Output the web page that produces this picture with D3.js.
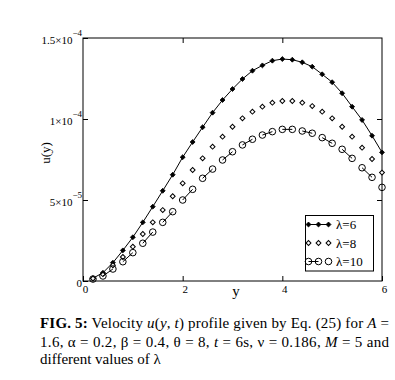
<!doctype html>
<html lang="en">
<head>
<meta charset="utf-8">
<title>FIG. 5 velocity profile</title>
<style>
  body { margin: 0; background: #fff; }
  svg text { font-family: "Liberation Serif", "Times New Roman", serif; fill: #000; }
</style>
</head>
<body>
<div id="chart"></div>
<script src="https://cdnjs.cloudflare.com/ajax/libs/d3/7.8.5/d3.min.js"></script>
<script>
  // y positions (x-axis) and velocity values in units of 1e-5
  const yPos = [0.2, 0.4, 0.6, 0.8, 1.0, 1.2, 1.4, 1.6, 1.8, 2.0,
                2.2, 2.4, 2.6, 2.8, 3.0, 3.2, 3.4, 3.6, 3.8, 4.0,
                4.2, 4.4, 4.6, 4.8, 5.0, 5.2, 5.4, 5.6, 5.8, 6.0];
  const uLam6 = [0.17, 0.51, 1.13, 1.89, 2.70, 3.62, 4.59, 5.57, 6.56, 7.64,
                 8.58, 9.49, 10.39, 11.17, 11.85, 12.47, 12.98, 13.31, 13.60, 13.70,
                 13.66, 13.50, 13.23, 12.76, 12.27, 11.59, 10.76, 9.94, 8.97, 7.94];
  const uLam8 = [0.15, 0.42, 0.97, 1.48, 2.12, 2.90, 3.62, 4.38, 5.23, 6.03,
                 6.85, 7.57, 8.29, 8.91, 9.52, 10.04, 10.45, 10.76, 11.01, 11.11,
                 11.11, 11.01, 10.80, 10.45, 10.04, 9.52, 8.91, 8.23, 7.53, 6.69];
  const uLam10 = [0.12, 0.31, 0.74, 1.19, 1.75, 2.33, 3.02, 3.62, 4.28, 5.00,
                  5.66, 6.34, 6.91, 7.47, 7.98, 8.40, 8.75, 9.01, 9.22, 9.36,
                  9.36, 9.26, 9.12, 8.85, 8.50, 8.13, 7.57, 6.99, 6.40, 5.78];
  const xTicks = [0, 2, 4, 6];
  const yTicks = [0, 5e-5, 1e-4, 1.5e-4];
  const yTickText = [["0", ""], ["5\u00d710", "\u22125"], ["1\u00d710", "\u22124"], ["1.5\u00d710", "\u22124"]];
  const legendLabels = ["\u03bb=6", "\u03bb=8", "\u03bb=10"];

  const width = 395, height = 380;
  const plotL = 83, plotR = 382, plotT = 38, plotB = 281;

  const svg = d3.select("#chart").append("svg").attr("width", width).attr("height", height);

  const x = d3.scaleLinear().domain([0, 6]).range([plotL, plotR]);
  const y = d3.scaleLinear().domain([0, 1.5e-4]).range([plotB, plotT]);

  const toPts = arr => arr.map((v, i) => [yPos[i], v * 1e-5]);
  const s6 = toPts(uLam6), s8 = toPts(uLam8), s10 = toPts(uLam10);

  // axes (ticks inward)
  const gx = svg.append("g").attr("transform", `translate(0,${plotB})`)
    .call(d3.axisBottom(x).tickValues(xTicks).tickSize(-5).tickSizeOuter(0).tickPadding(4).tickFormat(d3.format("d")));
  gx.selectAll("text").attr("font-size", 11).attr("dx", 2);
  gx.selectAll(".domain").remove();

  const gy = svg.append("g").attr("transform", `translate(${plotL},0)`)
    .call(d3.axisLeft(y).tickValues(yTicks).tickSize(-5).tickSizeOuter(0).tickPadding(1).tickFormat(""));
  gy.selectAll(".domain").remove();
  gy.selectAll("text").each(function (d, i) {
    const t = d3.select(this).attr("font-size", 11).attr("dy", 5);
    t.append("tspan").text(yTickText[i][0]);
    if (yTickText[i][1]) t.append("tspan").attr("dy", -8).attr("font-size", 9).text(yTickText[i][1]);
  });

  svg.append("g").attr("transform", `translate(0,${plotT})`)
    .call(d3.axisTop(x).tickValues([2, 4]).tickSize(-5).tickSizeOuter(0).tickFormat(""))
    .selectAll(".domain").remove();
  svg.append("g").attr("transform", `translate(${plotR},0)`)
    .call(d3.axisRight(y).tickValues([5e-5, 1e-4]).tickSize(-5).tickSizeOuter(0).tickFormat(""))
    .selectAll(".domain").remove();

  svg.selectAll(".tick line").attr("stroke", "#000");

  svg.append("rect").attr("x", plotL).attr("y", plotT)
    .attr("width", plotR - plotL).attr("height", plotB - plotT)
    .attr("fill", "none").attr("stroke", "#000").attr("stroke-width", 1);

  // axis titles
  svg.append("text").attr("x", 236).attr("y", 296).attr("text-anchor", "middle")
    .attr("font-size", 15).text("y");
  svg.append("text").attr("transform", "translate(50,153) rotate(-90)")
    .attr("text-anchor", "middle").attr("font-size", 13).text("u(y)");

  const line = d3.line().x(d => x(d[0])).y(d => y(d[1]));
  const diamond = d3.symbol().type(d3.symbolSquare).size(12);

  // lambda = 6: solid line, filled diamonds
  svg.append("path").attr("d", line(s6)).attr("fill", "none").attr("stroke", "#000").attr("stroke-width", 1);
  svg.append("g").selectAll("path").data(s6).join("path")
    .attr("d", diamond)
    .attr("transform", d => `translate(${x(d[0])},${y(d[1])}) rotate(45)`)
    .attr("fill", "#000").attr("stroke", "#000").attr("stroke-width", 0.8);

  // lambda = 8: open diamonds only
  svg.append("g").selectAll("path").data(s8).join("path")
    .attr("d", diamond)
    .attr("transform", d => `translate(${x(d[0])},${y(d[1])}) rotate(45)`)
    .attr("fill", "#fff").attr("stroke", "#000").attr("stroke-width", 1);

  // lambda = 10: dashed line (pairs), open circles
  const pairs = [];
  for (let i = 1; i + 1 < s10.length; i += 2) pairs.push([s10[i], s10[i + 1]]);
  svg.append("g").selectAll("path").data(pairs).join("path")
    .attr("d", line).attr("fill", "none").attr("stroke", "#000").attr("stroke-width", 1);
  svg.append("g").selectAll("circle").data(s10).join("circle")
    .attr("cx", d => x(d[0])).attr("cy", d => y(d[1])).attr("r", 3.3)
    .attr("fill", "none").attr("stroke", "#000").attr("stroke-width", 1);

  // legend
  const lg = svg.append("g");
  lg.append("rect").attr("x", 305.5).attr("y", 215.5).attr("width", 68).attr("height", 55.5)
    .attr("fill", "#fff").attr("stroke", "#000").attr("stroke-width", 1);
  const rowY = [224.5, 243, 261.5];
  const sx = [308.5, 318.5, 328.5];
  lg.append("line").attr("x1", sx[0]).attr("x2", sx[2]).attr("y1", rowY[0]).attr("y2", rowY[0]).attr("stroke", "#000");
  sx.forEach(px => lg.append("path").attr("d", diamond).attr("transform", `translate(${px},${rowY[0]}) rotate(45)`)
    .attr("fill", "#000").attr("stroke", "#000").attr("stroke-width", 0.8));
  sx.forEach(px => lg.append("path").attr("d", diamond).attr("transform", `translate(${px},${rowY[1]}) rotate(45)`)
    .attr("fill", "#fff").attr("stroke", "#000"));
  lg.append("line").attr("x1", sx[0]).attr("x2", sx[1]).attr("y1", rowY[2]).attr("y2", rowY[2]).attr("stroke", "#000");
  sx.forEach(px => lg.append("circle").attr("cx", px).attr("cy", rowY[2]).attr("r", 3.3)
    .attr("fill", "none").attr("stroke", "#000"));
  legendLabels.forEach((t, i) => lg.append("text").attr("x", 336).attr("y", rowY[i] + 4.5)
    .attr("font-size", 13).text(t));

  // caption
  const cap = svg.append("g").attr("font-size", 15);
  const l1 = cap.append("text").attr("x", 40).attr("y", 328).attr("textLength", 349).attr("lengthAdjust", "spacing");
  l1.append("tspan").attr("font-weight", "bold").text("FIG. 5:");
  l1.append("tspan").text(" Velocity ");
  l1.append("tspan").attr("font-style", "italic").text("u");
  l1.append("tspan").text("(");
  l1.append("tspan").attr("font-style", "italic").text("y");
  l1.append("tspan").text(", ");
  l1.append("tspan").attr("font-style", "italic").text("t");
  l1.append("tspan").text(") profile given by Eq. (25) for ");
  l1.append("tspan").attr("font-style", "italic").text("A");
  l1.append("tspan").text(" =");

  const l2 = cap.append("text").attr("x", 40).attr("y", 346.5).attr("textLength", 349).attr("lengthAdjust", "spacing");
  l2.append("tspan").text("1.6, \u03b1 = 0.2, \u03b2 = 0.4, \u03b8 = 8, ");
  l2.append("tspan").attr("font-style", "italic").text("t");
  l2.append("tspan").text(" = 6s, \u03bd = 0.186, ");
  l2.append("tspan").attr("font-style", "italic").text("M");
  l2.append("tspan").text(" = 5 and");

  cap.append("text").attr("x", 40).attr("y", 364).text("different values of \u03bb");
</script>
</body>
</html>
